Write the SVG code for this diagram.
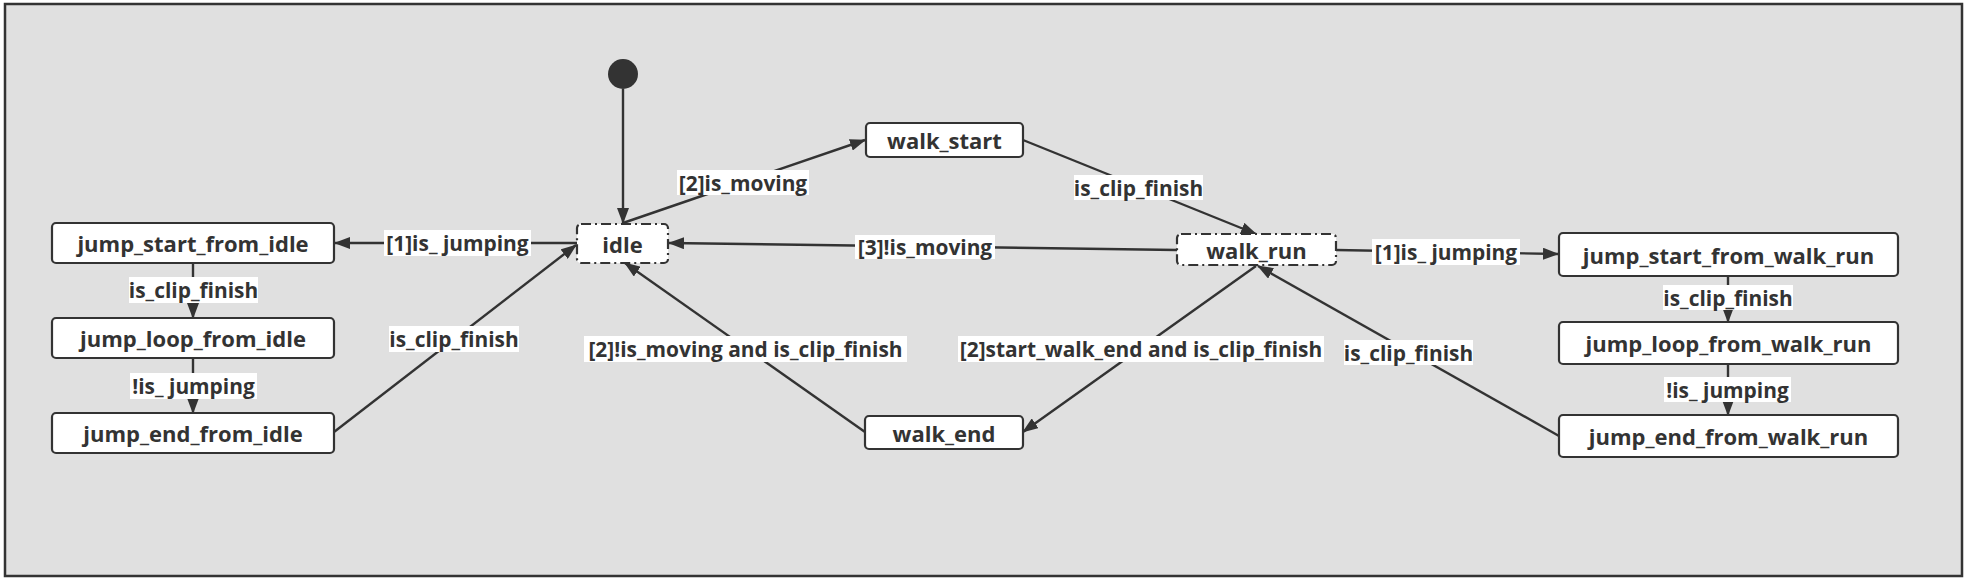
<svg xmlns="http://www.w3.org/2000/svg" width="1968" height="584" viewBox="0 0 1968 584">
<style>
.node rect{fill:#fff;stroke:#333;stroke-width:2.2}
.node rect.dd{stroke-dasharray:10 4 2 4}
text{font-family:"Open Sans","Noto Sans","Liberation Sans",sans-serif;font-weight:700;fill:#333;text-anchor:middle;dominant-baseline:central}
.node text{font-size:22px}
.lbl text{font-size:20.9px}
.conn line,.conn path{stroke:#333;stroke-width:2.4;fill:none}
.arr{marker-end:url(#ah)}
.lbl rect{fill:#fff}
</style>
<defs>
<marker id="ah" viewBox="0 0 16 12" refX="15" refY="6" markerWidth="16" markerHeight="12" markerUnits="userSpaceOnUse" orient="auto">
<path d="M0,0 L16,6 L0,12 Z" fill="#333"/>
</marker>
</defs>
<rect x="5" y="4" width="1957" height="572" fill="#e0e0e0" stroke="#333" stroke-width="2.5"/>
<g id="connectors" class="conn">
<line class="arr" x1="623" y1="89" x2="623" y2="223"/>
<line class="arr" x1="577" y1="243" x2="335" y2="243"/>
<line class="arr" x1="193" y1="263" x2="193" y2="318"/>
<line class="arr" x1="193" y1="358" x2="193" y2="413"/>
<line class="arr" x1="334" y1="432" x2="576" y2="245"/>
<line class="arr" x1="623" y1="223" x2="865" y2="140"/>
<line class="arr" x1="1023" y1="140" x2="1256" y2="234"/>
<line class="arr" x1="1177" y1="250" x2="669" y2="243"/>
<line class="arr" x1="1336" y1="250" x2="1558" y2="254"/>
<line class="arr" x1="1728" y1="276" x2="1728" y2="322"/>
<line class="arr" x1="1728" y1="364" x2="1728" y2="415"/>
<line class="arr" x1="1559" y1="436" x2="1258" y2="266"/>
<line class="arr" x1="1256" y1="266" x2="1023" y2="432"/>
<line class="arr" x1="865" y1="432" x2="625" y2="263"/>
<g class="lbl">
<rect x="384" y="230" width="147" height="26"/><text x="457.5" y="243">[1]is_ jumping</text>
<rect x="129" y="277" width="129" height="26"/><text x="193.5" y="290">is_clip_finish</text>
<rect x="130" y="373" width="127" height="26"/><text x="193.5" y="386">!is_ jumping</text>
<rect x="389" y="326" width="130" height="26"/><text x="454" y="339">is_clip_finish</text>
<rect x="677" y="170" width="132" height="25"/><text x="743" y="182.5">[2]is_moving</text>
<rect x="1074" y="175" width="129" height="25"/><text x="1138.5" y="187.5">is_clip_finish</text>
<rect x="855" y="235" width="140" height="24"/><text x="925" y="247">[3]!is_moving</text>
<rect x="1372" y="239" width="148" height="26"/><text x="1446" y="252">[1]is_ jumping</text>
<rect x="1663" y="285" width="130" height="25"/><text x="1728" y="297.5">is_clip_finish</text>
<rect x="1664" y="377" width="127" height="25"/><text x="1727.5" y="389.5">!is_ jumping</text>
<rect x="1344" y="340" width="129" height="25"/><text x="1408.5" y="352.5">is_clip_finish</text>
<rect x="958" y="336" width="366" height="26"/><text x="1141" y="349">[2]start_walk_end and is_clip_finish</text>
<rect x="584" y="336" width="323" height="26"/><text x="745.5" y="349">[2]!is_moving and is_clip_finish</text>
</g>
</g>
<g id="initial"><circle cx="623" cy="74" r="15" fill="#333"/></g>
<g id="jump_start_from_idle" class="node"><rect x="52" y="223" width="282" height="40" rx="4"/><text x="193" y="243">jump_start_from_idle</text></g>
<g id="jump_loop_from_idle" class="node"><rect x="52" y="318" width="282" height="40" rx="4"/><text x="193" y="338">jump_loop_from_idle</text></g>
<g id="jump_end_from_idle" class="node"><rect x="52" y="413" width="282" height="40" rx="4"/><text x="193" y="433">jump_end_from_idle</text></g>
<g id="idle" class="node"><rect class="dd" x="577" y="224" width="91" height="39" rx="4"/><text x="622.5" y="243.5">idle</text></g>
<g id="walk_start" class="node"><rect x="866" y="123" width="157" height="34" rx="4"/><text x="944.5" y="140">walk_start</text></g>
<g id="walk_run" class="node"><rect class="dd" x="1177" y="234" width="159" height="31" rx="4"/><text x="1256.5" y="249.5">walk_run</text></g>
<g id="walk_end" class="node"><rect x="865" y="416" width="158" height="33" rx="4"/><text x="944" y="432.5">walk_end</text></g>
<g id="jump_start_from_walk_run" class="node"><rect x="1559" y="233" width="339" height="43" rx="4"/><text x="1728.5" y="254.5">jump_start_from_walk_run</text></g>
<g id="jump_loop_from_walk_run" class="node"><rect x="1559" y="322" width="339" height="42" rx="4"/><text x="1728.5" y="343">jump_loop_from_walk_run</text></g>
<g id="jump_end_from_walk_run" class="node"><rect x="1559" y="415" width="339" height="42" rx="4"/><text x="1728.5" y="436">jump_end_from_walk_run</text></g>
</svg>
